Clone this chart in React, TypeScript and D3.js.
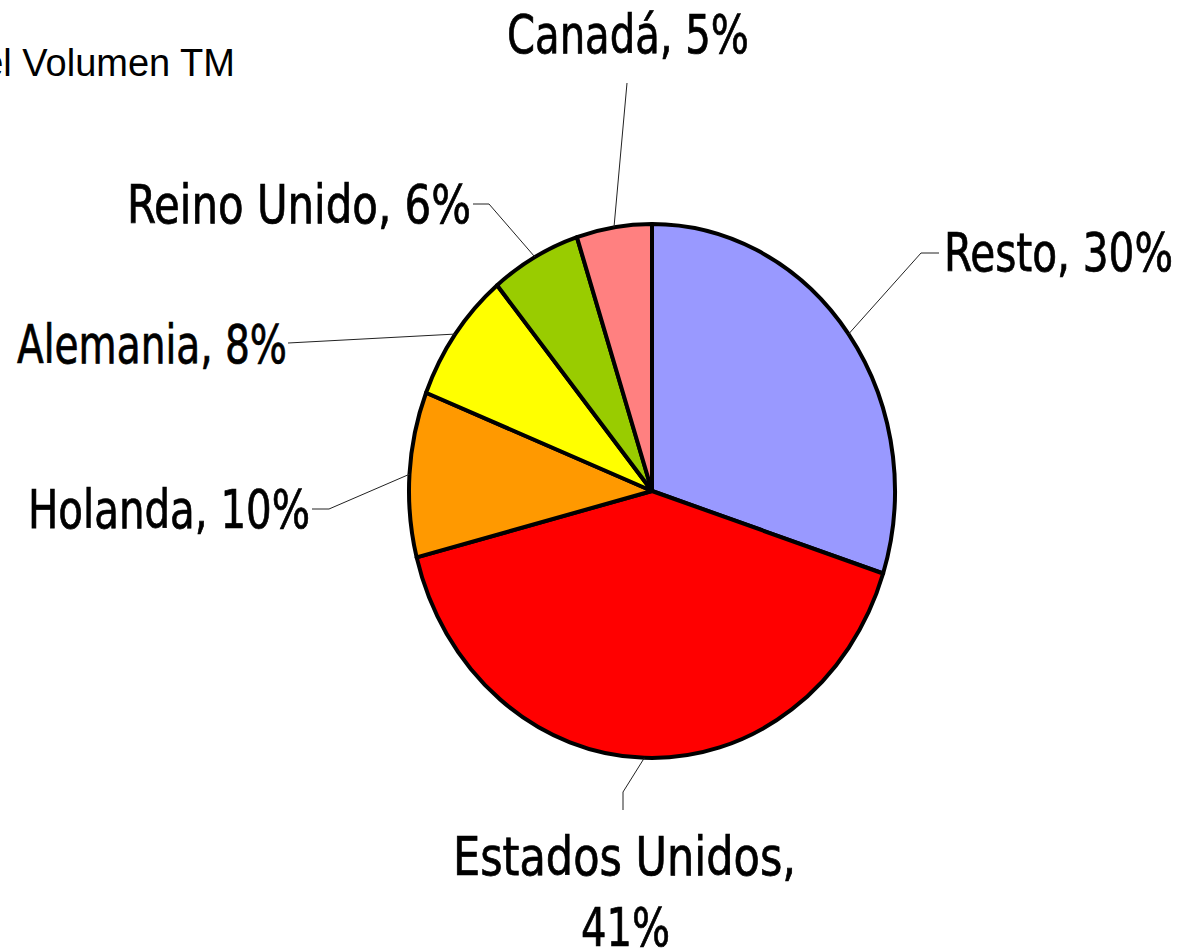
import React from "react";
import * as d3 from "d3";

const categories = ["Resto", "Estados Unidos", "Holanda", "Alemania", "Reino Unido", "Canadá"];
const values = [30, 41, 10, 8, 6, 5];
const colors = ["#9999FF", "#FF0000", "#FF9900", "#FFFF00", "#99CC00", "#FF8080"];
const titleText = "el Volumen TM";

// label layout: left edge, baseline and width of each text line, and elbow points of the leader line
const labelLayout = [
  { lines: [{ t: "Resto, 30%", x: 944, y: 271, w: 229 }], elbow: [[921, 253], [939, 253]] },
  {
    lines: [
      { t: "Estados Unidos,", x: 453, y: 875, w: 343 },
      { t: "41%", x: 581, y: 946, w: 89 },
    ],
    elbow: [[623, 792], [623, 810]],
  },
  { lines: [{ t: "Holanda, 10%", x: 28, y: 528, w: 282 }], elbow: [[329, 509], [312, 509]] },
  { lines: [{ t: "Alemania, 8%", x: 17, y: 363, w: 270 }], elbow: [[288, 343]] },
  { lines: [{ t: "Reino Unido, 6%", x: 127, y: 223, w: 344 }], elbow: [[489, 204], [473, 204]] },
  { lines: [{ t: "Canadá, 5%", x: 507, y: 53, w: 242 }], elbow: [[627, 83]] },
];

const W = 1183;
const H = 952;
const cx = 652;
const cy = 491;
const rx = 243;
const ry = 267;

export default function App() {
  const pie = d3.pie<number>().sort(null).value((d) => d);
  const arcs = pie(values);
  const arc = d3.arc<d3.PieArcDatum<number>>().innerRadius(0).outerRadius(rx);
  const sy = ry / rx;
  const labelFont = "'Liberation Sans Narrow', 'Arial Narrow', 'DejaVu Sans Condensed', sans-serif";

  return (
    <svg width={W} height={H} style={{ position: "absolute", left: 0, top: 0, background: "#fff" }}>
      <text x={235} y={76} textAnchor="end" fontFamily="'Liberation Sans', Arial, sans-serif" fontSize={38} fill="#000">
        {titleText}
      </text>
      <g transform={`translate(${cx},${cy}) scale(1,${sy})`}>
        {arcs.map((a, i) => (
          <path
            key={i}
            d={arc(a) || ""}
            fill={colors[i]}
            stroke="#000"
            strokeWidth={4}
            vectorEffect="non-scaling-stroke"
            strokeLinejoin="round"
          />
        ))}
      </g>
      {arcs.map((a, i) => {
        const mid = (a.startAngle + a.endAngle) / 2;
        const ex = cx + rx * Math.sin(mid);
        const ey = cy - ry * Math.cos(mid);
        const L = labelLayout[i];
        const pts: [number, number][] = [[ex, ey], ...(L.elbow as [number, number][])];
        const line = d3.line();
        return (
          <g key={"l" + i}>
            <path d={line(pts) || ""} fill="none" stroke="#222" strokeWidth={1} />
            {L.lines.map((ln, j) => (
              <text
                key={j}
                x={ln.x}
                y={ln.y}
                textAnchor="start"
                fontFamily={labelFont}
                fontSize={53}
                textLength={ln.w}
                lengthAdjust="spacingAndGlyphs"
                fill="#000"
                stroke="#000"
                strokeWidth={0.7}
              >
                {ln.t}
              </text>
            ))}
          </g>
        );
      })}
    </svg>
  );
}
